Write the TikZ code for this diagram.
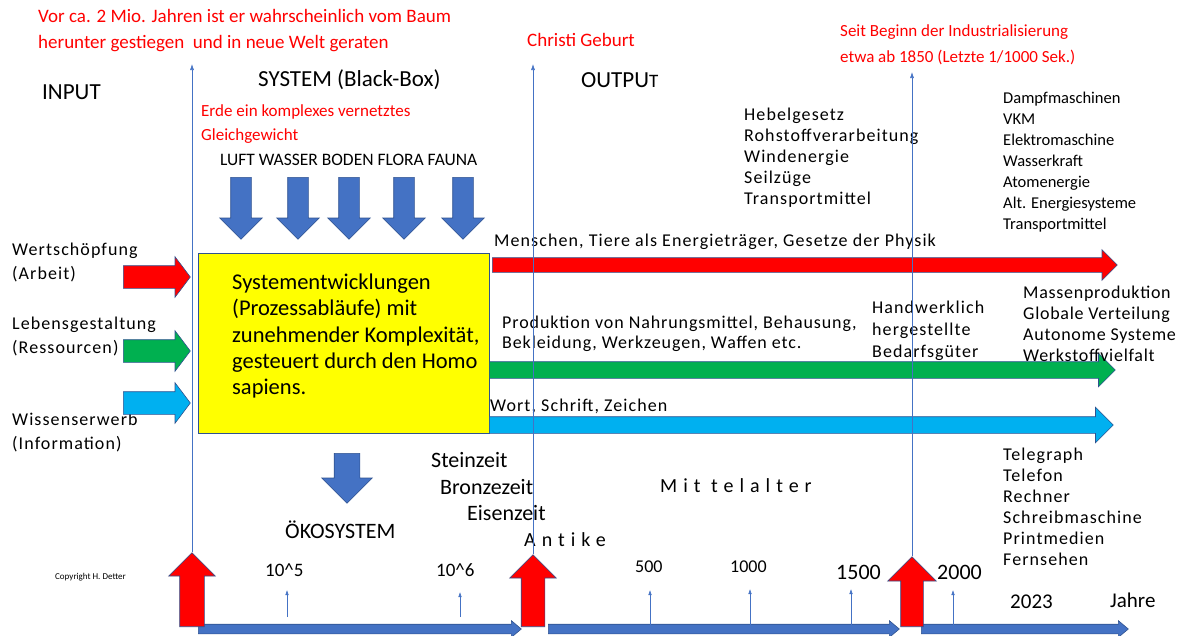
\documentclass[tikz,border=0pt]{standalone}
\usepackage{fontspec}
\setmainfont{Carlito}
\usepackage{tikz}
\usetikzlibrary{arrows.meta, shapes.arrows}

\definecolor{offblue}{HTML}{4472C4}
\definecolor{offline}{HTML}{2F528F}
\definecolor{offred}{HTML}{FF0000}
\definecolor{offgreen}{HTML}{00B050}
\definecolor{offcyan}{HTML}{00B0F0}
\definecolor{offyellow}{HTML}{FFFF00}

\begin{document}
\begin{tikzpicture}[
    x=1pt, y=-1pt,
    >={Latex[length=6pt, width=4pt]},
    txt/.style={
        inner sep=0pt,
        anchor=west,
        align=left,
        font=\fontsize{16.5}{21}\selectfont
    },
    wide/.style={txt, font=\fontsize{18}{21}\selectfont\addfontfeatures{LetterSpace=6}},
    note/.style={txt, text=offred, font=\fontsize{17}{25.5}\selectfont},
    title/.style={txt, font=\fontsize{23}{28}\selectfont},
    era/.style={txt, font=\fontsize{22}{27}\selectfont},
    spaced/.style={txt, font=\fontsize{20}{24}\selectfont\addfontfeatures{LetterSpace=30, Ligatures=NoCommon}},
    year/.style={txt, font=\fontsize{19}{23}\selectfont},
    blk/.style n args={3}{
        single arrow,
        anchor=tail,
        draw=offline,
        line width=0.6pt,
        inner xsep=0pt,
        inner ysep=#1*0.5pt,
        minimum width=0pt,
        minimum height=#3pt,
        single arrow head extend=(#2-#1)*0.5pt
    },
    guide/.style={draw=offblue, line width=0.6pt, ->},
    tick/.style={draw=offblue, line width=0.5pt, -{Latex[length=5pt, width=3.5pt]}}
]
\useasboundingbox (0,0) rectangle (1184,635);

% red remarks on top
\node[note, font=\fontsize{19}{26}\selectfont] (baum) at (38,31)
    {Vor ca. 2 Mio. Jahren ist er wahrscheinlich vom Baum\\herunter gestiegen \ und in neue Welt geraten};
\node[note, font=\fontsize{19}{26}\selectfont] (christi) at (527,40) {Christi Geburt};
\node[note] (indust) at (840,45)
    {Seit Beginn der Industrialisierung\\etwa ab 1850 (Letzte 1/1000 Sek.)};

% headings
\node[title] (input) at (42,92) {INPUT};
\node[title] (system) at (258,80) {SYSTEM (Black-Box)};
\node[title] (output) at (581,80) {OUTPU{\fontsize{19}{23}\selectfont T}};

\node[note, font=\fontsize{17}{24}\selectfont] (erde) at (201,124)
    {Erde ein komplexes vernetztes\\Gleichgewicht};
\node[txt, font=\fontsize{17.5}{21}\selectfont] (umwelt) at (220,160)
    {LUFT WASSER BODEN FLORA FAUNA};

% resources going into the system
\foreach \cx [count=\i] in {241,298,349,404,463}
    \node[blk={20}{42}{62}, fill=offblue, rotate=-90] (res\i) at (\cx,177) {};

% the system box
\node[draw=offline, fill=offyellow, line width=0.8pt, inner sep=0pt,
      minimum width=291pt, minimum height=180pt] (sysbox) at (343.5,343) {};
\node[txt, font=\fontsize{22.5}{26.3}\selectfont] (systext) at (232,336)
    {Systementwicklungen\\(Prozessabläufe) mit\\zunehmender Komplexität,\\gesteuert durch den Homo\\sapiens.};

% input side
\node[wide, font=\fontsize{18}{24}\selectfont\addfontfeatures{LetterSpace=6}] (wert) at (12,262) {Wertschöpfung\\(Arbeit)};
\node[wide, font=\fontsize{18}{24}\selectfont\addfontfeatures{LetterSpace=6}] (lebens) at (12,336) {Lebensgestaltung\\(Ressourcen)};
\node[wide, font=\fontsize{18}{24}\selectfont\addfontfeatures{LetterSpace=6}] (wissen) at (12,432) {Wissenserwerb\\(Information)};

\node[blk={22}{40}{67}, fill=offred, single arrow tip angle=106] (inArbeit) at (123,277) {};
\node[blk={22}{40}{67}, fill=offgreen, single arrow tip angle=106] (inRes) at (123,351) {};
\node[blk={22}{40}{67}, fill=offcyan, single arrow tip angle=106] (inInfo) at (123,403) {};

% output side
\node[blk={14}{30}{625}, fill=offred] (outArbeit) at (492,265) {};
\node[blk={16}{33}{626}, fill=offgreen] (outRes) at (489,370) {};
\node[blk={16}{35}{624}, fill=offcyan] (outInfo) at (489,425) {};

\node[wide] (physik) at (494,242) {Menschen, Tiere als Energieträger, Gesetze der Physik};
\node[wide, font=\fontsize{18}{20}\selectfont\addfontfeatures{LetterSpace=5}] (produktion) at (502,334)
    {Produktion von Nahrungsmittel, Behausung,\\Bekleidung, Werkzeugen, Waffen etc.};
\node[wide, font=\fontsize{18}{22}\selectfont\addfontfeatures{LetterSpace=6}] (handwerk) at (872,331)
    {Handwerklich\\hergestellte\\Bedarfsgüter};
\node[wide, font=\fontsize{18}{21}\selectfont\addfontfeatures{LetterSpace=4}] (massen) at (1023,323.5)
    {Massenproduktion\\Globale Verteilung\\Autonome Systeme\\Werkstoffvielfalt};
\node[wide] (wort) at (490,406) {Wort, Schrift, Zeichen};
\node[wide] (hebel) at (744,158)
    {Hebelgesetz\\Rohstoffverarbeitung\\Windenergie\\Seilzüge\\Transportmittel};
\node[txt] (dampf) at (1003,162)
    {Dampfmaschinen\\VKM\\Elektromaschine\\Wasserkraft\\Atomenergie\\Alt. Energiesysteme\\Transportmittel};
\node[wide] (tele) at (1003,506.5)
    {Telegraph\\Telefon\\Rechner\\Schreibmaschine\\Printmedien\\Fernsehen};

% ecosystem and eras
\node[blk={25}{50}{50}, fill=offblue, rotate=-90] (toEco) at (347,453) {};
\node[era] (oeko) at (285,530) {ÖKOSYSTEM};
\node[era] (stein) at (431,460) {Steinzeit};
\node[era] (bronze) at (440,487) {Bronzezeit};
\node[era] (eisen) at (467,513) {Eisenzeit};
\node[spaced] (antike) at (524,540) {Antike};
\node[spaced] (mittel) at (660,486) {Mit telalter};

% time line
\node[blk={9}{16}{323}, fill=offblue, single arrow tip angle=80] (span1) at (198,629) {};
\node[blk={9}{16}{351}, fill=offblue, single arrow tip angle=80] (span2) at (548,629) {};
\node[blk={9}{16}{207}, fill=offblue, single arrow tip angle=80] (span3) at (921,629) {};

\node[blk={24}{46}{74}, fill=offred, rotate=90] (upA) at (192,627) {};
\node[blk={23}{46}{72}, fill=offred, rotate=90] (upB) at (533,627) {};
\node[blk={22}{48}{70}, fill=offred, rotate=90] (upC) at (912,627) {};

\coordinate (topA) at (192,64);
\coordinate (topB) at (533,64);
\coordinate (topC) at (912,72);
\draw[guide] (upA.tip) -- (topA);
\draw[guide] (upB.tip) -- (topB);
\draw[guide] (upC.tip) -- (topC);

% years
\node[year] (y5) at (265,570) {10\textasciicircum 5};
\node[year] (y6) at (436,570) {10\textasciicircum 6};
\node[year, font=\fontsize{18}{22}\selectfont] (y500) at (635,567) {500};
\node[year, font=\fontsize{18}{22}\selectfont] (y1000) at (730,567) {1000};
\node[year, font=\fontsize{22}{26}\selectfont] (y1500) at (836,572) {1500};
\node[year, font=\fontsize{22}{26}\selectfont] (y2000) at (937,572) {2000};
\node[year, font=\fontsize{21}{25}\selectfont] (y2023) at (1010,602) {2023};
\node[year, font=\fontsize{21}{25}\selectfont] (jahre) at (1110,600) {Jahre};
\foreach \tx/\tb/\tt in {287/617/590, 460/617/592, 650/625/590, 750/625/589, 851/625/589, 953/625/590}
    \draw[tick] (\tx,\tb) -- (\tx,\tt);

\node[txt, font=\fontsize{9}{11}\selectfont] (copy) at (55,577) {Copyright H. Detter};

\end{tikzpicture}
\end{document}
